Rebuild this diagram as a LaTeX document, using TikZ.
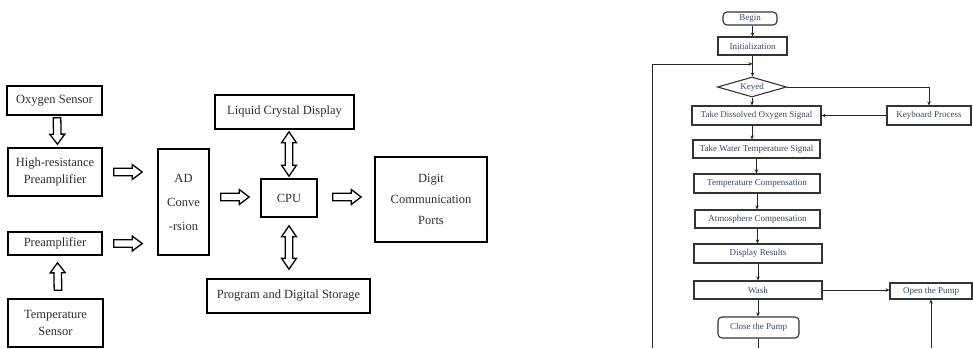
\documentclass[tikz,border=0pt]{standalone}
\usepackage{fontspec}
\setmainfont{Liberation Serif}
\usetikzlibrary{calc,shapes.geometric,arrows.meta}
\definecolor{lt}{RGB}{45,45,45}
\definecolor{fc}{RGB}{60,70,100}
\newcommand\blkone[2]{%
  \coordinate (hbx) at ($(#2)!10pt!(#1)$);
  \draw[blk] ($(#1)!3.8pt!90:(#2)$) -- ($(hbx)!3.8pt!90:(#2)$) -- ($(hbx)!7.5pt!90:(#2)$) -- (#2)
    -- ($(hbx)!7.5pt!-90:(#2)$) -- ($(hbx)!3.8pt!-90:(#2)$) -- ($(#1)!3.8pt!-90:(#2)$) -- cycle;}
\newcommand\blktwo[2]{%
  \coordinate (hax) at ($(#1)!11pt!(#2)$);
  \coordinate (hbx) at ($(#2)!11pt!(#1)$);
  \draw[blk] (#1) -- ($(hax)!7.5pt!90:(#2)$) -- ($(hax)!3.8pt!90:(#2)$) -- ($(hbx)!3.8pt!90:(#2)$)
    -- ($(hbx)!7.5pt!90:(#2)$) -- (#2) -- ($(hbx)!7.5pt!-90:(#2)$) -- ($(hbx)!3.8pt!-90:(#2)$)
    -- ($(hax)!3.8pt!-90:(#2)$) -- ($(hax)!7.5pt!-90:(#2)$) -- cycle;}
\tikzset{
  blk/.style={draw=black, line width=1.3pt, fill=white, line join=miter},
  lbox/.style={draw=black, line width=1.6pt, inner sep=0pt, align=center, text=lt,
    font=\fontsize{12.5}{17}\selectfont},
  fbox/.style={draw=black!80, line width=1.1pt, inner sep=0pt, align=center, text=fc,
    font=\fontsize{9}{10}\selectfont},
  rbox/.style={fbox, rounded corners=4pt},
  farr/.style={draw=black!85, line width=0.8pt, -{Stealth[length=4pt,width=3.5pt]}},
  fline/.style={draw=black!85, line width=0.8pt}
}
\begin{document}
\begin{tikzpicture}[x=1pt,y=-1pt]
\useasboundingbox (0,0) rectangle (973,348);
% ---------- left block diagram ----------
\node[lbox, minimum width=95, minimum height=29] (os) at (54.5,100.5) {Oxygen Sensor};
\node[lbox, minimum width=94, minimum height=48] (hr) at (55,172) {High-resistance\\Preamplifier};
\node[lbox, minimum width=94, minimum height=23] (pre) at (55,243.5) {Preamplifier};
\node[lbox, minimum width=95, minimum height=48] (ts) at (55.5,323) {Temperature\\Sensor};
\node[lbox, minimum width=51, minimum height=106] (ad) at (183.5,202) {AD\\[7pt]Conve\\[7pt]-rsion};
\node[lbox, minimum width=56, minimum height=38] (cpu) at (289,198) {CPU};
\node[lbox, minimum width=139, minimum height=34] (lcd) at (284.5,112) {Liquid Crystal Display};
\node[lbox, minimum width=163, minimum height=34] (pds) at (288.5,296) {Program and Digital Storage};
\node[lbox, minimum width=112, minimum height=85] (dcp) at (431,199.5) {Digit\\[4pt]Communication\\[4pt]Ports};
% hollow arrows
\coordinate (a1) at ($(os.south)+(2.5,2)$);
\coordinate (a2) at ($(hr.north)+(2.5,-3)$);
\blkone{a1}{a2}
\coordinate (b1) at ($(ts.north)+(2.5,-8)$);
\coordinate (b2) at ($(pre.south)+(2.5,7)$);
\blkone{b1}{b2}
\coordinate (c1) at ($(hr.east)+(11,0)$);
\coordinate (c2) at ($(hr.east -| ad.west)+(-15,0)$);
\blkone{c1}{c2}
\coordinate (d1) at ($(pre.east)+(11,0)$);
\coordinate (d2) at ($(pre.east -| ad.west)+(-15,0)$);
\blkone{d1}{d2}
\coordinate (e1) at ($(cpu.west -| ad.east)+(11,-1)$);
\coordinate (e2) at ($(cpu.west)+(-11,-1)$);
\blkone{e1}{e2}
\coordinate (f1) at ($(cpu.east)+(15,-1)$);
\coordinate (f2) at ($(cpu.east -| dcp.west)+(-13,-1)$);
\blkone{f1}{f2}
\coordinate (g1) at ($(cpu.north |- lcd.south)+(0,2)$);
\coordinate (g2) at ($(cpu.north)+(0,-2)$);
\blktwo{g1}{g2}
\coordinate (h1) at ($(cpu.south)+(0,8)$);
\coordinate (h2) at ($(cpu.south |- pds.north)+(0,-9)$);
\blktwo{h1}{h2}
% ---------- right flowchart ----------
\node[rbox, minimum width=54, minimum height=13] (bg) at (750,18.5) {Begin};
\node[fbox, minimum width=69, minimum height=18] (init) at (752.5,46) {Initialization};
\node[draw=black!80, line width=1.1pt, shape=diamond, aspect=3.45, minimum width=69,
  minimum height=20, inner sep=0pt, text=fc, font=\fontsize{9}{10}\selectfont] (key) at (752,87) {Keyed};
\node[fbox, minimum width=129, minimum height=19] (tdo) at (756.5,115.5) {Take Dissolved Oxygen Signal};
\node[fbox, minimum width=84, minimum height=19] (kp) at (929,115.5) {Keyboard Process};
\node[fbox, minimum width=127, minimum height=18] (twt) at (756.5,149) {Take Water Temperature Signal};
\node[fbox, minimum width=126, minimum height=19] (tc) at (757,183.5) {Temperature Compensation};
\node[fbox, minimum width=125, minimum height=18] (ac) at (757.5,219) {Atmosphere Compensation};
\node[fbox, minimum width=128, minimum height=19] (dr) at (758,253.5) {Display Results};
\node[fbox, minimum width=128, minimum height=18] (wash) at (758,290) {Wash};
\node[fbox, minimum width=82, minimum height=16] (op) at (931,291) {Open the Pump};
\node[rbox, minimum width=81, minimum height=21] (cp) at (758.5,327.5) {Close the Pump};
% connectors
\draw[farr] (bg.south -| init.north) -- (init.north);
\coordinate (jn) at ($(init.south)!0.4!(init.south |- key.north)$);
\draw[farr] (init.south) -- (init.south |- key.north);
\coordinate (lb) at (652,348);
\draw[farr] (lb) |- (jn);
\draw[farr] (key.south) -- (key.south |- tdo.north);
\draw[farr] (key.east) -| (kp.north);
\draw[farr] (kp.west) -- (tdo.east);
\draw[farr] (tdo.south -| key.south) -- (twt.north -| key.south);
\draw[farr] (twt.south) -- (twt.south |- tc.north);
\draw[farr] (tc.south) -- (tc.south |- ac.north);
\draw[farr] (ac.south) -- (ac.south |- dr.north);
\draw[farr] (dr.south) -- (dr.south |- wash.north);
\draw[farr] (wash.south) -- (wash.south |- cp.north);
\draw[farr] (wash.east) -- (wash.east -| op.west);
\coordinate (cb) at (cp.south |- 0,348);
\draw[fline] (cp.south) -- (cb);
\coordinate (ob) at (op.south |- 0,348);
\draw[farr] (ob) -- (op.south);
\end{tikzpicture}
\end{document}
